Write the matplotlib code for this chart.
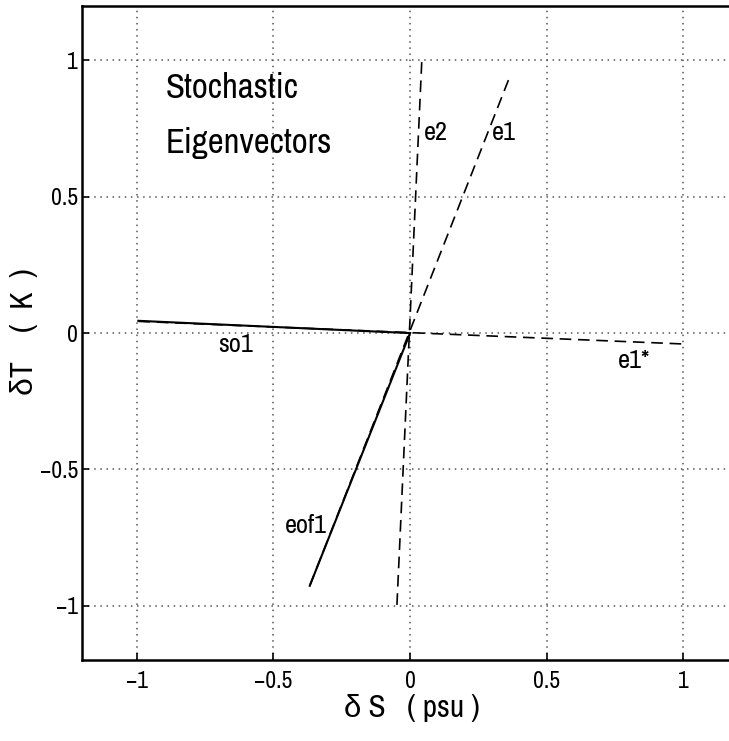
import matplotlib
matplotlib.use("Agg")
import matplotlib.pyplot as plt
from matplotlib import font_manager

names = {f.name for f in font_manager.fontManager.ttflist}
narrow = [n for n in sorted(names) if 'Narrow' in n or 'Condensed' in n]
fam = narrow[:1] + ['Liberation Sans', 'DejaVu Sans']
plt.rcParams['font.family'] = fam

# Data: eigenvector segments (start/end points in dS, dT)
e1_x = [-0.367, 0.363]
e1_y = [-0.927, 0.936]
e2_x = [-0.048, 0.043]
e2_y = [-0.997, 1.0]
e1s_x = [-0.994, 1.0]
e1s_y = [0.043, -0.04]
so1_x = [-0.994, 0.0]
so1_y = [0.045, 0.0]
eof1_x = [0.0, -0.367]
eof1_y = [0.0, -0.927]

ticks = [-1, -0.5, 0, 0.5, 1]
tick_labels = ['\u22121', '\u22120.5', '0', '0.5', '1']

fig = plt.figure(figsize=(7.29, 7.41), dpi=100)
ax = fig.add_axes([0.1125, 0.109, 0.90, 0.883])

dash = (0, (7, 4))
ax.plot(e1_x, e1_y, color='black', lw=1.2, linestyle=dash)
ax.plot(e2_x, e2_y, color='black', lw=1.2, linestyle=dash)
ax.plot(e1s_x, e1s_y, color='black', lw=1.2, linestyle=dash)
ax.plot(so1_x, so1_y, color='black', lw=1.5, linestyle='-')
ax.plot(eof1_x, eof1_y, color='black', lw=1.5, linestyle='-')

ax.set_xlim(-1.2, 1.2)
ax.set_ylim(-1.2, 1.2)
ax.set_xticks(ticks)
ax.set_xticklabels(tick_labels)
ax.set_yticks(ticks)
ax.set_yticklabels(tick_labels)
ax.tick_params(direction='in', length=5, labelsize=17, width=1.2)
ax.tick_params(axis='x', pad=8)
ax.tick_params(axis='y', pad=3)
ax.grid(True, linestyle=(0, (1, 3)), color='#555555', linewidth=1.1)
for s in ax.spines.values():
    s.set_linewidth(1.8)

txt = dict(fontsize=19, color='black')
ax.text(0.051, 0.71, 'e2', **txt, ha='left', va='baseline')
ax.text(0.298, 0.71, 'e1', **txt, ha='left', va='baseline')
ax.text(-0.64, -0.07, 'so1', **txt, ha='center', va='baseline')
ax.text(0.82, -0.128, 'e1*', **txt, ha='center', va='baseline')
ax.text(-0.38, -0.733, 'eof1', **txt, ha='center', va='baseline')
ax.text(-0.895, 0.862, 'Stochastic', fontsize=25, ha='left', va='baseline')
ax.text(-0.895, 0.66, 'Eigenvectors', fontsize=25, ha='left', va='baseline')

fig.text(412 / 729, 1 - 708 / 741, '\u03b4 S   ( psu )', fontsize=22.5, ha='center', va='center')
fig.text(24 / 729, 1 - 332 / 741, '\u03b4T    (  K  )', fontsize=23, ha='center', va='center', rotation=90)

fig.savefig('out.png', dpi=100)
